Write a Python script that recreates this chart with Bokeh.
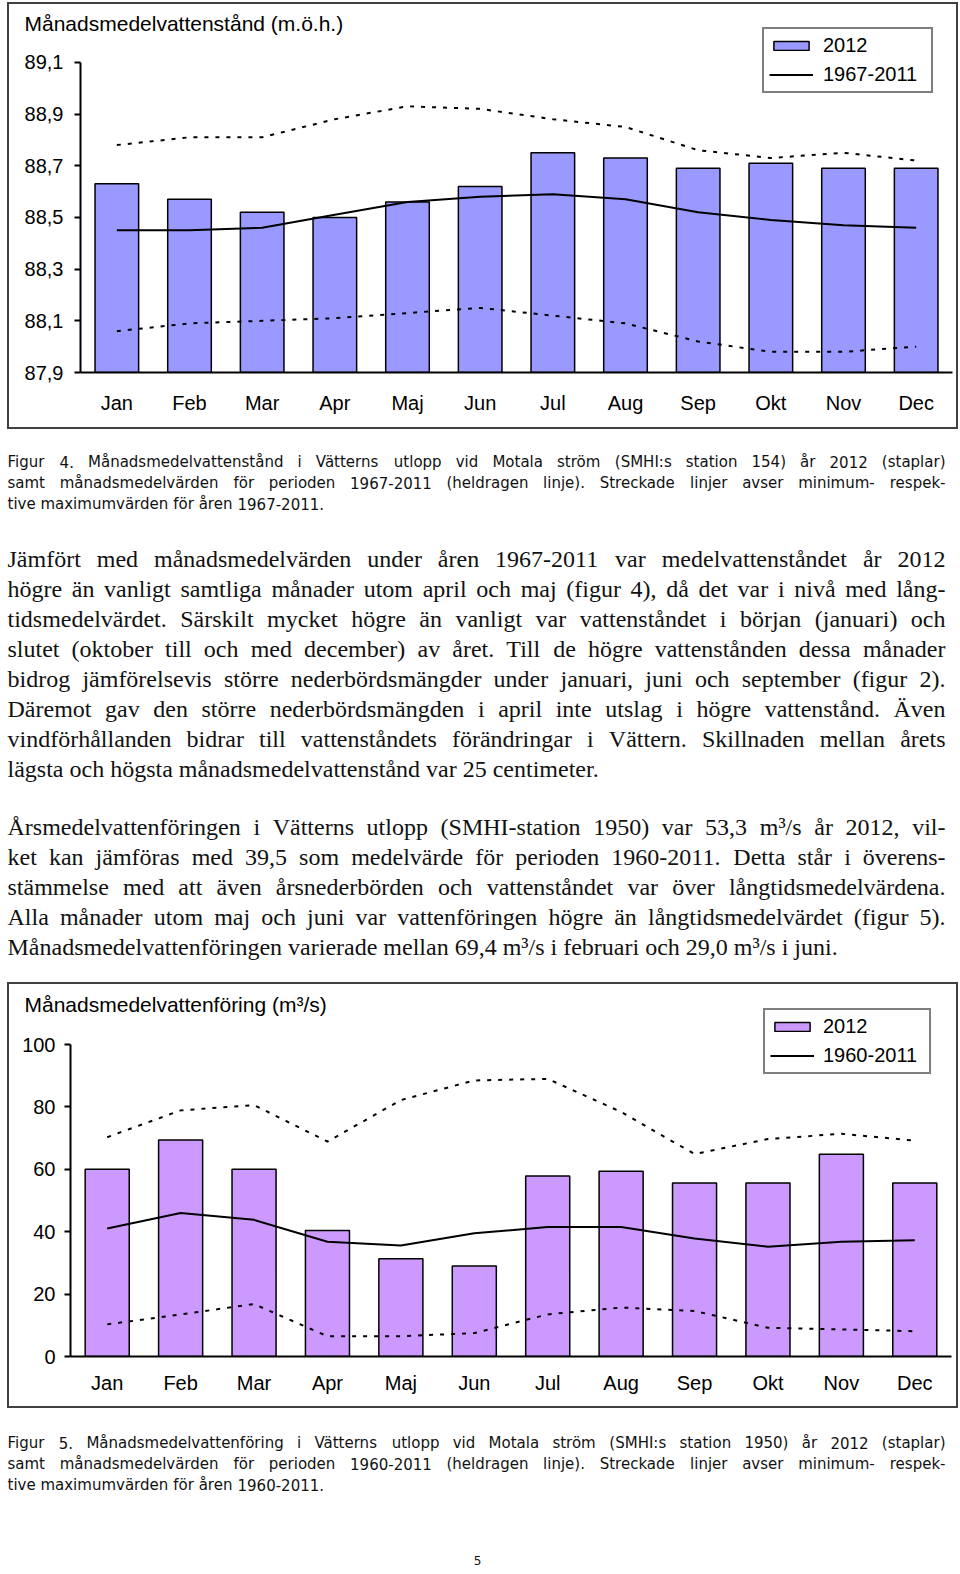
import os
import struct

from bokeh.plotting import figure
from bokeh.models import (ColumnDataSource, FactorRange, Range1d, FixedTicker,
                          CustomJSTickFormatter, Legend, LegendItem, Title)
from bokeh.layouts import column
from bokeh.core.properties import value
from bokeh.embed import file_html
from bokeh.resources import INLINE

# ---------------------------------------------------------------- data
months = ["Jan", "Feb", "Mar", "Apr", "Maj", "Jun", "Jul", "Aug", "Sep", "Okt", "Nov", "Dec"]

# Figur 4: water level (m.ö.h.)
level_2012 = [88.63, 88.57, 88.52, 88.50, 88.56, 88.62, 88.75, 88.73, 88.69, 88.71, 88.69, 88.69]
level_mean = [88.45, 88.45, 88.46, 88.51, 88.56, 88.58, 88.59, 88.57, 88.52, 88.49, 88.47, 88.46]
level_max = [88.78, 88.81, 88.81, 88.88, 88.93, 88.92, 88.88, 88.85, 88.76, 88.73, 88.75, 88.72]
level_min = [88.06, 88.09, 88.10, 88.11, 88.13, 88.15, 88.12, 88.09, 88.02, 87.98, 87.98, 88.00]
level_ticks = [87.9, 88.1, 88.3, 88.5, 88.7, 88.9, 89.1]
level_title = "Månadsmedelvattenstånd (m.ö.h.)"
level_legend = ["2012", "1967-2011"]

# Figur 5: discharge (m3/s)
flow_2012 = [60.0, 69.4, 60.0, 40.4, 31.3, 29.0, 57.9, 59.4, 55.6, 55.6, 64.8, 55.6]
flow_mean = [41.0, 46.0, 43.8, 36.8, 35.6, 39.5, 41.5, 41.5, 37.8, 35.2, 36.8, 37.3]
flow_max = [70.3, 78.9, 80.6, 68.9, 82.2, 88.5, 89.0, 78.4, 64.9, 69.7, 71.4, 69.2]
flow_min = [10.3, 13.5, 16.8, 6.5, 6.5, 7.5, 13.5, 15.7, 14.6, 9.2, 8.7, 8.1]
flow_ticks = [0, 20, 40, 60, 80, 100]
flow_title = "Månadsmedelvattenföring (m³/s)"
flow_legend = ["2012", "1960-2011"]

caption4 = [
    "Figur 4. Månadsmedelvattenstånd i Vätterns utlopp vid Motala ström (SMHI:s station 154) år 2012 (staplar)",
    "samt månadsmedelvärden för perioden 1967-2011 (heldragen linje). Streckade linjer avser minimum- respek-",
    "tive maximumvärden för åren 1967-2011.",
]
paragraph1 = [
    "Jämfört med månadsmedelvärden under åren 1967-2011 var medelvattenståndet år 2012",
    "högre än vanligt samtliga månader utom april och maj (figur 4), då det var i nivå med lång-",
    "tidsmedelvärdet. Särskilt mycket högre än vanligt var vattenståndet i början (januari) och",
    "slutet (oktober till och med december) av året. Till de högre vattenstånden dessa månader",
    "bidrog jämförelsevis större nederbördsmängder under januari, juni och september (figur 2).",
    "Däremot gav den större nederbördsmängden i april inte utslag i högre vattenstånd. Även",
    "vindförhållanden bidrar till vattenståndets förändringar i Vättern. Skillnaden mellan årets",
    "lägsta och högsta månadsmedelvattenstånd var 25 centimeter.",
]
paragraph2 = [
    "Årsmedelvattenföringen i Vätterns utlopp (SMHI-station 1950) var 53,3 m³/s år 2012, vil-",
    "ket kan jämföras med 39,5 som medelvärde för perioden 1960-2011. Detta står i överens-",
    "stämmelse med att även årsnederbörden och vattenståndet var över långtidsmedelvärdena.",
    "Alla månader utom maj och juni var vattenföringen högre än långtidsmedelvärdet (figur 5).",
    "Månadsmedelvattenföringen varierade mellan 69,4 m³/s i februari och 29,0 m³/s i juni.",
]
caption5 = [
    "Figur 5. Månadsmedelvattenföring i Vätterns utlopp vid Motala ström (SMHI:s station 1950) år 2012 (staplar)",
    "samt månadsmedelvärden för perioden 1960-2011 (heldragen linje). Streckade linjer avser minimum- respek-",
    "tive maximumvärden för åren 1960-2011.",
]
page_number = "5"

PAGE_W = 960
CHART_W = 947
CHART_FONT = "Liberation Sans"
CAPTION_FONT = "DejaVu Sans"
BODY_FONT = "Liberation Serif"


# ---------------------------------------------------------------- font metrics (for justified text)
class FontMetrics:
    def __init__(self, path):
        d = open(path, "rb").read()
        self.d = d
        n = struct.unpack(">H", d[4:6])[0]
        tables = {}
        for i in range(n):
            tag, _cs, off, ln = struct.unpack(">4sIII", d[12 + 16 * i: 28 + 16 * i])
            tables[tag.decode("latin1")] = off
        head = tables["head"]
        self.upem = struct.unpack(">H", d[head + 18: head + 20])[0]
        hhea = tables["hhea"]
        nh = struct.unpack(">H", d[hhea + 34: hhea + 36])[0]
        hm = tables["hmtx"]
        self.adv = [struct.unpack(">H", d[hm + 4 * i: hm + 4 * i + 2])[0] for i in range(nh)]
        cm = tables["cmap"]
        nt = struct.unpack(">H", d[cm + 2: cm + 4])[0]
        sub = None
        for i in range(nt):
            pid, eid, off = struct.unpack(">HHI", d[cm + 4 + 8 * i: cm + 12 + 8 * i])
            fmt = struct.unpack(">H", d[cm + off: cm + off + 2])[0]
            if fmt == 4 and (pid, eid) in ((3, 1), (0, 3), (0, 1), (0, 0), (0, 4)):
                sub = cm + off
                if (pid, eid) == (3, 1):
                    break
        if sub is None:
            raise ValueError("no cmap")
        segx2 = struct.unpack(">H", d[sub + 6: sub + 8])[0]
        self.seg = seg = segx2 // 2
        self.ends = struct.unpack(">%dH" % seg, d[sub + 14: sub + 14 + segx2])
        self.starts = struct.unpack(">%dH" % seg, d[sub + 16 + segx2: sub + 16 + 2 * segx2])
        self.deltas = struct.unpack(">%dH" % seg, d[sub + 16 + 2 * segx2: sub + 16 + 3 * segx2])
        self.ro_pos = sub + 16 + 3 * segx2
        self.ros = struct.unpack(">%dH" % seg, d[self.ro_pos: self.ro_pos + segx2])
        self.cache = {}

    def glyph(self, cp):
        if cp > 0xFFFF:
            return 0
        for i in range(self.seg):
            if self.ends[i] >= cp:
                if self.starts[i] > cp:
                    return 0
                ro = self.ros[i]
                if ro == 0:
                    return (cp + self.deltas[i]) & 0xFFFF
                addr = self.ro_pos + 2 * i + ro + 2 * (cp - self.starts[i])
                g = struct.unpack(">H", self.d[addr: addr + 2])[0]
                return (g + self.deltas[i]) & 0xFFFF if g else 0
        return 0

    def char_em(self, ch):
        if ch not in self.cache:
            g = self.glyph(ord(ch))
            a = self.adv[min(g, len(self.adv) - 1)]
            self.cache[ch] = a / self.upem
        return self.cache[ch]

    def width(self, s, size):
        return sum(self.char_em(c) for c in s) * size


class ApproxMetrics:
    def width(self, s, size):
        w = 0.0
        for c in s:
            if c in "il.,:;'|!jt()-/ ":
                w += 0.3
            elif c in "mwMW":
                w += 0.85
            elif c.isupper() or c.isdigit():
                w += 0.62
            else:
                w += 0.5
        return w * size


_font_index = None


def find_metrics(filenames):
    global _font_index
    if _font_index is None:
        _font_index = {}
        for base in ["/usr/share/fonts", "/usr/local/share/fonts",
                     os.path.expanduser("~/.fonts"), os.path.expanduser("~/.local/share/fonts")]:
            if os.path.isdir(base):
                for root, _dirs, files in os.walk(base):
                    for f in files:
                        _font_index.setdefault(f, os.path.join(root, f))
    for fn in filenames:
        if fn in _font_index:
            try:
                return FontMetrics(_font_index[fn])
            except Exception:
                pass
    return ApproxMetrics()


body_metrics = find_metrics(["LiberationSerif-Regular.ttf"])
caption_metrics = find_metrics(["DejaVuSans.ttf"])

# can a title be pulled down into the plot area with a negative standoff?
try:
    Title(text="x", standoff=-23)
    NEG_STANDOFF = True
except Exception:
    NEG_STANDOFF = False


# ---------------------------------------------------------------- helpers
def no_frame_align(p):
    try:
        p.frame_align = False
    except Exception:
        pass


LEGEND_H = 65


def make_chart(title, bars, mean, vmax, vmin, bar_color, y0, y1, ticks, fmt_js, legend_labels,
               h, frame_left, frame_right, frame_top, y1_px, y0_px, legend_left,
               label_standoff, label_width, x_standoff, y_standoff, margin):
    """Pixel arguments are canvas coordinates; y1_px/y0_px are where y1/y0 sit."""
    if NEG_STANDOFF:
        standoff = -23
    else:
        frame_top = 40
        standoff = 14
    frame_bottom = round(y0_px)
    frame_h = frame_bottom - frame_top
    y_end = y0 + (y1 - y0) * frame_h / (y0_px - y1_px)

    p = figure(width=CHART_W, height=h, x_range=FactorRange(*months),
               y_range=Range1d(y0, y_end),
               output_backend="svg", toolbar_location=None, tools="",
               min_border_left=frame_left, min_border_right=CHART_W - frame_right,
               min_border_top=frame_top, min_border_bottom=h - frame_bottom)
    no_frame_align(p)
    p.margin = margin
    p.styles = {"border": "2px solid #404040", "box-sizing": "content-box"}
    p.outline_line_color = None
    p.background_fill_color = "white"
    p.border_fill_color = "white"
    p.xgrid.visible = False
    p.ygrid.visible = False

    # title starts at page x = 24 (canvas origin at page x = 9)
    p.title = Title(text=title, align="left", offset=24 - 9 - frame_left,
                    standoff=standoff, vertical_align="bottom",
                    text_font=CHART_FONT, text_font_size="21px",
                    text_font_style="normal", text_color="black")

    src = ColumnDataSource(dict(m=months, bar=bars, mean=mean, vmax=vmax, vmin=vmin))
    rb = p.vbar(x="m", top="bar", bottom=y0, width=0.6, source=src,
                fill_color=bar_color, line_color="black", line_width=1.5)
    p.line(x="m", y="vmax", source=src, line_color="black", line_width=2, line_dash="4 7")
    p.line(x="m", y="vmin", source=src, line_color="black", line_width=2, line_dash="4 7")
    rl = p.line(x="m", y="mean", source=src, line_color="black", line_width=2)

    xa = p.xaxis[0]
    xa.axis_line_width = 2
    xa.axis_line_color = "black"
    xa.major_tick_line_color = None
    xa.major_tick_out = 0
    xa.major_tick_in = 0
    xa.major_label_standoff = x_standoff
    xa.major_label_text_font = CHART_FONT
    xa.major_label_text_font_size = "20px"
    xa.major_label_text_color = "black"

    ya = p.yaxis[0]
    ya.bounds = (y0, y1)
    ya.ticker = FixedTicker(ticks=ticks)
    ya.formatter = CustomJSTickFormatter(code=fmt_js)
    ya.axis_line_width = 2
    ya.axis_line_color = "black"
    ya.major_tick_out = 6
    ya.major_tick_in = 0
    ya.major_tick_line_width = 2
    ya.major_tick_line_color = "black"
    ya.minor_tick_line_color = None
    ya.major_label_standoff = y_standoff
    ya.major_label_text_font = CHART_FONT
    ya.major_label_text_font_size = "20px"
    ya.major_label_text_color = "black"

    legend_top = frame_top + 1
    legend = Legend(items=[LegendItem(label=value(legend_labels[0]), renderers=[rb]),
                           LegendItem(label=value(legend_labels[1]), renderers=[rl])],
                    location=(legend_left - frame_left, frame_bottom - (legend_top + LEGEND_H)),
                    orientation="vertical",
                    glyph_width=44, glyph_height=11, label_standoff=label_standoff,
                    label_width=label_width, label_height=20, padding=5, spacing=6,
                    border_line_color="black", border_line_width=2,
                    background_fill_color="white", background_fill_alpha=1.0,
                    label_text_font=CHART_FONT, label_text_font_size="20px",
                    label_text_color="black")
    p.add_layout(legend)
    return p


def text_fig(h):
    t = figure(width=PAGE_W, height=h, x_range=Range1d(0, PAGE_W), y_range=Range1d(h, 0),
               output_backend="svg", toolbar_location=None, tools="",
               x_axis_type=None, y_axis_type=None, min_border=0)
    no_frame_align(t)
    t.outline_line_color = None
    t.background_fill_color = "white"
    t.border_fill_color = "white"
    return t


def place_block(t, lines, metrics, font, desired, left, right, baselines, color, min_gap=0.2):
    # justified block: all lines but the last fill the measure
    size = desired
    for line in lines[:-1]:
        words = line.split()
        em = sum(metrics.width(w, 1.0) for w in words) + (len(words) - 1) * min_gap
        size = min(size, (right - left) / em)
    lx, ly, lt, rx, ry, rt = [], [], [], [], [], []
    for i, (line, yb) in enumerate(zip(lines, baselines)):
        words = line.split()
        ws = [metrics.width(w, size) for w in words]
        if i < len(lines) - 1 and len(words) > 1:
            gap = (right - left - sum(ws)) / (len(words) - 1)
            x = left
            for w, wd in zip(words[:-1], ws[:-1]):
                lx.append(x); ly.append(yb); lt.append(w)
                x += wd + gap
            rx.append(right); ry.append(yb); rt.append(words[-1])
        else:
            gap = metrics.width(" ", size)
            x = left
            for w, wd in zip(words, ws):
                lx.append(x); ly.append(yb); lt.append(w)
                x += wd + gap
    fs = value("%.2fpx" % size)
    t.text(x=lx, y=ly, text=lt, text_font=value(font), text_font_size=fs,
           text_baseline="alphabetic", text_align="left", text_color=color)
    if rx:
        t.text(x=rx, y=ry, text=rt, text_font=value(font), text_font_size=fs,
               text_baseline="alphabetic", text_align="right", text_color=color)


# ---------------------------------------------------------------- figure 4
# canvas origin is at page (9, 4)
H1 = 423
p1 = make_chart(level_title, level_2012, level_mean, level_max, level_min, "#9999FF",
                87.9, 89.1, level_ticks,
                "return tick.toFixed(1).replace('.', ',');", level_legend,
                H1, frame_left=71, frame_right=939, frame_top=19, y1_px=57.7, y0_px=364.3,
                legend_left=753, label_standoff=10, label_width=103,
                x_standoff=19, y_standoff=11, margin=(2, 0, 0, 7))

# ---------------------------------------------------------------- text between the charts
H2 = 553
t1 = text_fig(H2)
LEFT, RIGHT = 7, 945
place_block(t1, caption4, caption_metrics, CAPTION_FONT, 15.0, LEFT, RIGHT,
            [32.2 + 21.2 * k for k in range(len(caption4))], "#111111")
place_block(t1, paragraph1, body_metrics, BODY_FONT, 24.0, LEFT, RIGHT,
            [129.5 + 30 * k for k in range(len(paragraph1))], "#111111")
place_block(t1, paragraph2, body_metrics, BODY_FONT, 24.0, LEFT, RIGHT,
            [397.5 + 30 * k for k in range(len(paragraph2))], "#111111")

# ---------------------------------------------------------------- figure 5
# canvas origin is at page (9, 984)
H3 = 422
p2 = make_chart(flow_title, flow_2012, flow_mean, flow_max, flow_min, "#CC99FF",
                0, 100, flow_ticks,
                "return tick.toFixed(0);", flow_legend,
                H3, frame_left=61, frame_right=938, frame_top=20, y1_px=59.3, y0_px=367.7,
                legend_left=754, label_standoff=9, label_width=101,
                x_standoff=15, y_standoff=9, margin=(0, 0, 0, 7))

# ---------------------------------------------------------------- caption 5 + page number
H4 = 164
t2 = text_fig(H4)
place_block(t2, caption5, caption_metrics, CAPTION_FONT, 15.0, LEFT, RIGHT,
            [34 + 21.2 * k for k in range(len(caption5))], "#111111")
t2.text(x=[477], y=[152], text=[page_number], text_font=value(CAPTION_FONT),
        text_font_size=value("12px"), text_align="center", text_baseline="middle",
        text_color="#111111")

layout = column(p1, t1, p2, t2, spacing=0)
open("out.html", "w").write(file_html(layout, INLINE))
